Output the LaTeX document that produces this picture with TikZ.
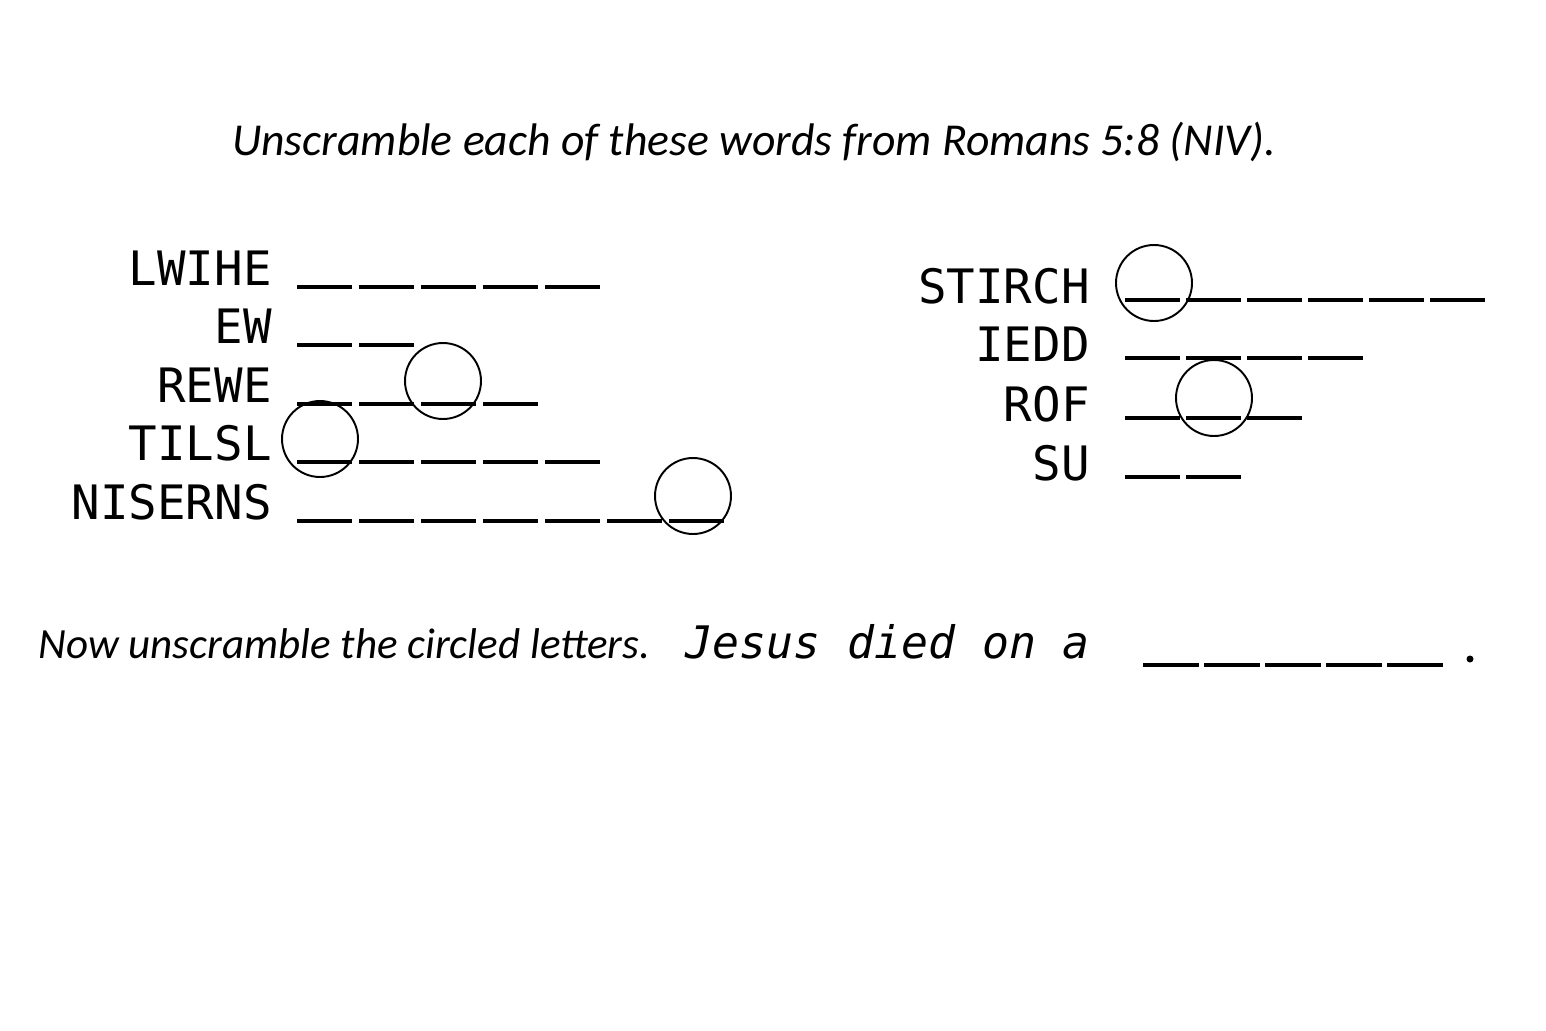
\documentclass[tikz,border=0pt]{standalone}
\usepackage{fontspec}
\setmainfont{Carlito}
\setmonofont{DejaVu Sans Mono}
\begin{document}
\begin{tikzpicture}[x=0.02cm,y=-0.02cm,
    word/.style={anchor=base east,inner sep=0pt,font=\ttfamily\fontsize{27}{30}\selectfont},
    blank/.style={line width=2.4pt},
    ring/.style={draw,line width=1.1pt,circle,minimum size=1.52cm,inner sep=0pt}]
  \useasboundingbox (0,0) rectangle (1546,1031);
  % Title
  \node[anchor=base,inner sep=0pt,font=\itshape\fontsize{26}{30}\selectfont] (title) at (754,155)
    {Unscramble each of these words from Romans 5:8 (NIV).};
  % Left column
  \foreach \w/\n/\y in {LWIHE/5/285, EW/2/343, REWE/4/402, TILSL/5/460, NISERNS/7/519}{
    \node[word] (w\w) at (272,\y) {\w};
    \foreach \i in {1,...,\n}
      \draw[blank] (297+62*\i-62,\y+2) -- ++(55,0);
  }
  % Right column
  \foreach \w/\n/\y in {STIRCH/6/300, IEDD/4/358, ROF/3/418, SU/2/477}{
    \node[word] (w\w) at (1090,\y+3) {\w};
    \foreach \i in {1,...,\n}
      \draw[blank] (1125+61*\i-61,\y) -- ++(55,0);
  }
  % Circled letters
  \node[ring] (c1) at (443,381) {};
  \node[ring] (c2) at (320,439) {};
  \node[ring] (c3) at (693,496) {};
  \node[ring] (c4) at (1154,283) {};
  \node[ring] (c5) at (1214,398) {};
  % Bottom line
  \node[anchor=base west,inner sep=0pt,font=\itshape\fontsize{24.5}{28}\selectfont] (now) at (38,658)
    {Now unscramble the circled letters.};
  \node[anchor=base west,inner sep=0pt,font=\ttfamily\itshape\fontsize{25.5}{28}\selectfont] (jesus) at (685,658)
    {Jesus died on a};
  \foreach \i in {1,...,5}
    \draw[blank] (1143+61*\i-61,665) -- ++(56,0);
  \fill (1470,659) circle (3.5);
\end{tikzpicture}
\end{document}
